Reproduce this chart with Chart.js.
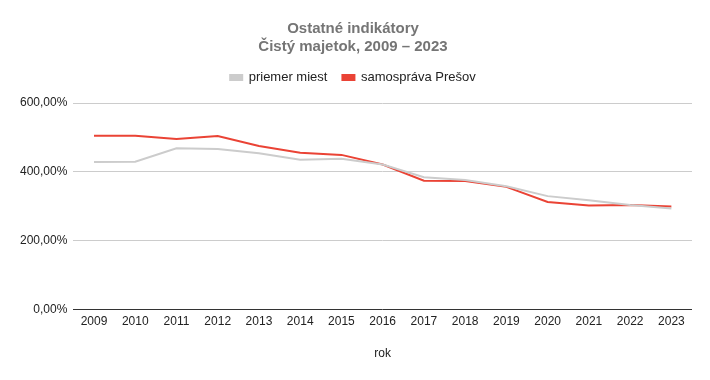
<!DOCTYPE html>
<html>
<head>
<meta charset="utf-8">
<script src="https://cdn.jsdelivr.net/npm/chart.js@4"></script>
<style>
html,body{margin:0;padding:0;background:#fff;}
#wrap{width:710px;height:380px;}
</style>
</head>
<body>
<div id="wrap"><canvas id="c" width="710" height="380"></canvas></div>
<script>
const categories = ['2009','2010','2011','2012','2013','2014','2015','2016','2017','2018','2019','2020','2021','2022','2023'];
const priemerMiest = [428,429,468,466,454,435,438,421,384,376,358,329,317,303,293];
const samospravaPresov = [505,505,495,504,475,455,449,421,374,373,356,312,302,303,299];
const yTicks = [0,200,400,600];

const FONT = "'Liberation Sans', Arial, sans-serif";

const legendSpace = {
  id: 'legendSpace',
  afterInit(chart) {
    const lg = chart.legend;
    if (lg && !lg._patched) {
      const orig = lg.fit;
      lg.fit = function () { orig.call(this); this.height += 9; };
      lg._patched = true;
    }
  }
};

new Chart(document.getElementById('c'), {
  type: 'line',
  plugins: [legendSpace],
  data: {
    labels: categories,
    datasets: [
      {label: 'priemer miest', data: priemerMiest, borderColor: '#cccccc', backgroundColor: '#cccccc', borderWidth: 2, pointRadius: 0, tension: 0},
      {label: 'samospráva Prešov', data: samospravaPresov, borderColor: '#ea4335', backgroundColor: '#ea4335', borderWidth: 2, pointRadius: 0, tension: 0}
    ]
  },
  options: {
    responsive: false,
    animation: false,
    devicePixelRatio: 1,
    layout: {padding: {left: 14, right: 18, top: 12, bottom: 19}},
    plugins: {
      title: {
        display: true,
        text: ['Ostatné indikátory', 'Čistý majetok, 2009 – 2023'],
        color: '#757575',
        font: {family: FONT, size: 15, weight: 'bold'},
        padding: {top: 8, bottom: 0},
        lineHeight: 1.3
      },
      legend: {
        display: true,
        labels: {
          color: '#222222',
          font: {family: FONT, size: 13},
          boxWidth: 12,
          boxHeight: 5,
          padding: 15
        }
      },
      tooltip: {enabled: false}
    },
    scales: {
      x: {
        offset: true,
        grid: {display: false, drawTicks: false},
        border: {display: false},
        ticks: {color: '#222222', font: {family: FONT, size: 12}, padding: 5, maxRotation: 0, autoSkip: false},
        title: {display: true, text: 'rok', color: '#222222', font: {family: FONT, size: 12}, padding: {top: 13, bottom: 0}}
      },
      y: {
        min: 0,
        max: 600,
        afterBuildTicks: (axis) => { axis.ticks = yTicks.map(v => ({value: v})); },
        grid: {
          color: (ctx) => ctx.tick && ctx.tick.value === 0 ? '#333333' : '#cccccc',
          lineWidth: 1,
          drawTicks: false
        },
        border: {display: false},
        ticks: {
          color: '#222222',
          font: {family: FONT, size: 12},
          padding: 6,
          callback: (v) => v.toFixed(2).replace('.', ',') + '%'
        }
      }
    }
  }
});
</script>
</body>
</html>
